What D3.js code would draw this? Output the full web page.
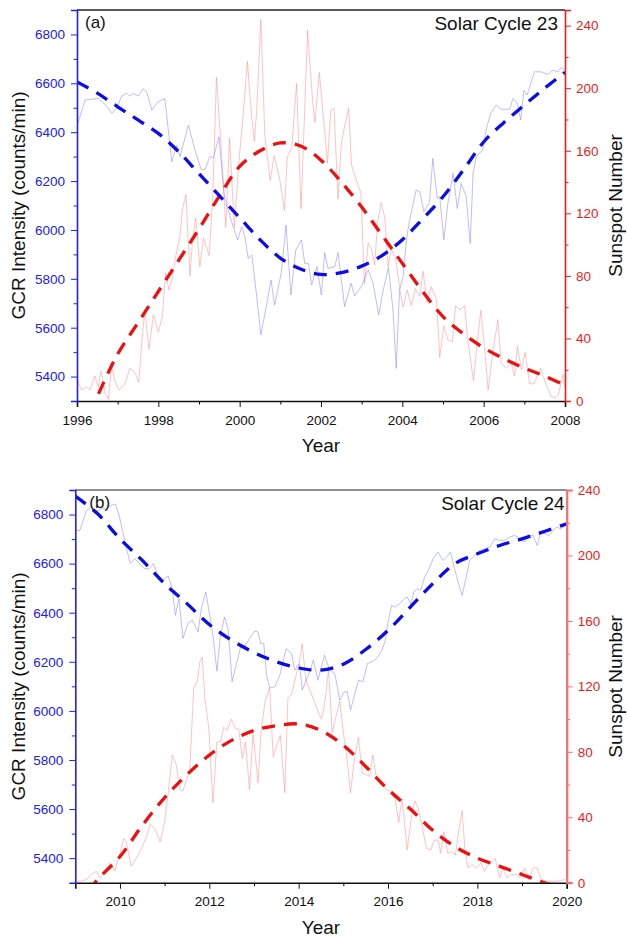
<!DOCTYPE html>
<html>
<head>
<meta charset="utf-8">
<script src="https://cdn.jsdelivr.net/npm/d3@7"></script>
<style>
  body { margin: 0; background: #fff; }
  svg { display: block; font-family: "Liberation Sans", Arial, sans-serif; }
</style>
</head>
<body>
<div id="chart"></div>
<script>
// ---- Solar cycle 23 (1996-2008) ----
const gcr23Years = [1996.02,1996.2,1996.52,1996.65,1996.77,1996.85,1996.98,1997.1,1997.22,1997.3,1997.38,1997.5,1997.63,1997.71,1997.84,1998.0,1998.16,1998.33,1998.45,1998.53,1998.74,1998.9,1999.05,1999.15,1999.27,1999.35,1999.49,1999.62,1999.72,1999.84,1999.95,2000.05,2000.13,2000.21,2000.3,2000.42,2000.52,2000.67,2000.77,2000.86,2001.02,2001.14,2001.26,2001.38,2001.52,2001.6,2001.69,2001.77,2001.9,2002.01,2002.09,2002.17,2002.34,2002.42,2002.58,2002.74,2002.83,2002.99,2003.16,2003.28,2003.42,2003.52,2003.66,2003.77,2003.85,2003.93,2004.02,2004.1,2004.18,2004.34,2004.43,2004.53,2004.67,2004.75,2004.86,2004.92,2005.02,2005.12,2005.25,2005.35,2005.45,2005.57,2005.67,2005.74,2005.82,2005.98,2006.06,2006.17,2006.31,2006.43,2006.64,2006.72,2006.83,2006.91,2006.99,2007.07,2007.25,2007.42,2007.58,2007.7,2007.83,2007.91,2007.99];
const gcr23 = [6436,6532,6538,6520,6498,6477,6498,6548,6559,6548,6559,6548,6577,6566,6491,6525,6538,6279,6347,6300,6429,6327,6248,6248,6302,6293,6381,6143,6081,6013,5959,6013,5972,5884,5897,5727,5570,5700,5795,5693,5822,6020,5734,5918,5959,5863,5863,5775,5850,5734,5907,5843,5850,5907,5686,5782,5730,5768,5836,5782,5652,5747,5847,5672,5434,5754,5809,5959,6041,6163,6156,6075,6115,6293,6129,6136,5959,6109,6232,6088,6190,6136,5945,6232,6300,6327,6409,6477,6511,6494,6494,6538,6518,6450,6572,6552,6647,6647,6636,6654,6647,6665,6654];

const ssn23Years = [1996.02,1996.11,1996.24,1996.32,1996.44,1996.52,1996.59,1996.69,1996.77,1996.85,1996.93,1997.03,1997.18,1997.3,1997.43,1997.52,1997.59,1997.67,1997.77,1997.88,1998.0,1998.1,1998.18,1998.26,1998.33,1998.43,1998.53,1998.59,1998.68,1998.78,1998.84,1998.92,1999.02,1999.11,1999.17,1999.25,1999.34,1999.43,1999.56,1999.66,1999.75,1999.87,1999.97,2000.07,2000.19,2000.28,2000.36,2000.42,2000.52,2000.62,2000.75,2000.85,2000.99,2001.1,2001.17,2001.28,2001.4,2001.51,2001.67,2001.79,2001.85,2001.96,2002.05,2002.16,2002.24,2002.32,2002.42,2002.5,2002.6,2002.68,2002.75,2002.87,2002.98,2003.07,2003.16,2003.24,2003.32,2003.39,2003.48,2003.57,2003.65,2003.73,2003.83,2003.93,2004.02,2004.12,2004.22,2004.32,2004.43,2004.51,2004.61,2004.71,2004.84,2004.92,2005.02,2005.12,2005.23,2005.31,2005.41,2005.53,2005.61,2005.75,2005.84,2005.93,2006.02,2006.11,2006.23,2006.35,2006.43,2006.56,2006.68,2006.76,2006.83,2006.93,2007.02,2007.13,2007.24,2007.4,2007.54,2007.66,2007.76,2007.84,2007.95,2008.0];
const ssn23 = [13,7,9,7,16,9,19,5,1,24,13,7,11,21,18,12,37,58,33,55,44,54,82,71,77,93,105,122,132,80,103,117,86,104,99,93,131,207,156,111,168,111,150,178,217,186,166,186,244,169,141,157,141,122,156,162,203,123,237,193,178,210,184,152,186,187,129,165,178,187,151,141,133,75,101,97,87,114,127,117,86,97,92,73,60,71,61,72,67,83,63,73,65,28,48,39,38,61,58,61,39,13,37,58,35,7,32,52,24,21,24,16,35,20,31,11,11,21,10,3,2,4,17,9];

const fit23Years = [1996,1996.5,1997,1997.5,1998,1998.5,1999,1999.5,2000,2000.5,2001,2001.5,2002,2002.5,2003,2003.5,2004,2004.5,2005,2005.5,2006,2006.5,2007,2007.5,2008];
const gcrFit23 = [6606,6560,6504,6450,6395,6320,6230,6140,6050,5960,5885,5840,5818,5825,5852,5895,5960,6045,6136,6245,6360,6440,6511,6580,6645];
const ssnFit23Years = [1996.3,1996.5,1997,1997.5,1998,1998.5,1999,1999.5,2000,2000.5,2001,2001.5,2002,2002.5,2003,2003.5,2004,2004.5,2005,2005.5,2006,2006.5,2007,2007.5,2008];
const ssnFit23 = [-8,3,30,50,70,90,110,131,150,160,165,163,154,140,124,106,88,70,54,43,34,27,21,16,10];

// ---- Solar cycle 24 (2009-2020) ----
const gcr24Years = [2009.01,2009.1,2009.25,2009.36,2009.47,2009.58,2009.69,2009.81,2009.9,2009.99,2010.14,2010.23,2010.33,2010.44,2010.55,2010.65,2010.75,2010.85,2010.95,2011.08,2011.17,2011.24,2011.32,2011.41,2011.52,2011.62,2011.75,2011.82,2011.92,2012.01,2012.08,2012.17,2012.25,2012.34,2012.42,2012.51,2012.6,2012.71,2012.81,2012.9,2013.01,2013.09,2013.15,2013.22,2013.28,2013.35,2013.47,2013.58,2013.72,2013.84,2013.91,2014.02,2014.08,2014.17,2014.26,2014.33,2014.43,2014.58,2014.69,2014.81,2014.92,2015.02,2015.09,2015.16,2015.25,2015.34,2015.44,2015.54,2015.63,2015.74,2015.85,2015.93,2016.0,2016.08,2016.16,2016.26,2016.36,2016.43,2016.51,2016.58,2016.66,2016.73,2016.82,2016.92,2017.01,2017.12,2017.23,2017.31,2017.4,2017.49,2017.58,2017.66,2017.75,2017.83,2017.94,2018.05,2018.16,2018.28,2018.39,2018.5,2018.61,2018.72,2018.84,2018.95,2019.06,2019.13,2019.25,2019.34,2019.42,2019.51,2019.6,2019.7,2019.77,2019.87,2019.96];
const gcr24 = [6735,6735,6816,6830,6810,6825,6822,6837,6843,6789,6667,6600,6620,6600,6579,6579,6600,6552,6532,6550,6498,6389,6457,6295,6356,6370,6322,6417,6485,6389,6308,6162,6308,6382,6335,6119,6186,6267,6267,6295,6324,6322,6274,6274,6146,6094,6098,6146,6254,6234,6166,6193,6085,6125,6166,6207,6125,6227,6166,6152,6044,6078,6078,6003,6064,6125,6119,6193,6200,6213,6241,6281,6363,6430,6423,6436,6457,6464,6436,6485,6498,6491,6545,6579,6620,6647,6613,6627,6647,6579,6518,6471,6545,6613,6633,6654,6661,6667,6701,6695,6695,6708,6715,6701,6688,6715,6715,6674,6728,6722,6715,6735,6749,6742,6755];

const ssn24Years = [2009.01,2009.14,2009.25,2009.36,2009.47,2009.55,2009.62,2009.69,2009.78,2009.88,2009.99,2010.08,2010.14,2010.25,2010.37,2010.48,2010.58,2010.68,2010.78,2010.9,2011.0,2011.08,2011.17,2011.26,2011.34,2011.41,2011.5,2011.56,2011.65,2011.73,2011.79,2011.84,2011.9,2011.99,2012.08,2012.17,2012.25,2012.32,2012.4,2012.49,2012.59,2012.66,2012.74,2012.81,2012.9,2012.98,2013.09,2013.16,2013.25,2013.35,2013.43,2013.52,2013.59,2013.69,2013.76,2013.84,2013.91,2014.01,2014.08,2014.16,2014.23,2014.32,2014.43,2014.51,2014.58,2014.67,2014.75,2014.84,2014.92,2014.99,2015.09,2015.16,2015.25,2015.34,2015.42,2015.52,2015.59,2015.66,2015.74,2015.85,2015.96,2016.07,2016.16,2016.24,2016.31,2016.37,2016.43,2016.52,2016.6,2016.67,2016.76,2016.86,2016.96,2017.03,2017.12,2017.18,2017.25,2017.34,2017.42,2017.51,2017.58,2017.66,2017.72,2017.79,2017.88,2017.98,2018.08,2018.16,2018.24,2018.33,2018.4,2018.5,2018.57,2018.67,2018.76,2018.87,2018.95,2019.06,2019.15,2019.25,2019.34,2019.43,2019.54,2019.66,2019.81,2019.96];
const ssn24 = [1,1,2,5,7,3,5,9,12,7,17,27,25,10,15,21,27,36,33,25,37,55,78,72,57,56,64,67,119,123,135,138,113,94,49,86,86,95,93,100,94,94,76,86,57,91,61,93,111,119,77,85,90,55,113,115,123,134,146,124,119,113,105,100,109,130,92,102,111,94,74,55,76,89,67,66,65,78,64,62,57,56,51,37,51,37,20,39,50,46,35,21,20,26,26,18,31,18,19,17,31,44,21,9,11,9,12,7,11,13,15,3,9,3,5,5,3,9,2,9,9,2,1,1,1,2];

const fit24Years = [2009,2009.5,2010,2010.5,2011,2011.5,2012,2012.5,2013,2013.5,2014,2014.5,2015,2015.5,2016,2016.5,2017,2017.5,2018,2018.5,2019,2019.5,2020];
const gcrFit24 = [6875,6803,6701,6613,6518,6437,6352,6288,6238,6200,6175,6166,6190,6250,6328,6423,6518,6600,6640,6674,6701,6731,6762];
const ssnFit24Years = [2009.3,2009.5,2010,2010.5,2011,2011.5,2012,2012.5,2013,2013.5,2014,2014.5,2015,2015.5,2016,2016.5,2017,2017.5,2018,2018.5,2019,2019.5,2019.9];
const ssnFit24 = [-5,2,16,35,52,66,78,87,93,96,97,93,84,71,57,45,32,22,15,10,5,0,-3];

// axis ticks
const gcrTicks = [5400,5600,5800,6000,6200,6400,6600,6800];
const gcrMinor = [5500,5700,5900,6100,6300,6500,6700];
const ssnTicks = [0,40,80,120,160,200,240];
const ssnMinor = [20,60,100,140,180,220];
const yearTicks23 = [1996,1998,2000,2002,2004,2006,2008];
const yearMinor23 = [1997,1999,2001,2003,2005,2007];
const yearTicks24 = [2010,2012,2014,2016,2018,2020];
const yearMinor24 = [2011,2013,2015,2017,2019];

const W = 627, H = 940;
const BLUE = "#2020f0", RED = "#ec1c1c";
const FONT = "Liberation Sans, Arial, sans-serif";

const svg = d3.select("#chart").append("svg")
  .attr("width", W).attr("height", H);

const zip = (xs, ys) => xs.map((x, i) => [x, ys[i]]);

function drawPanel(p) {
  const x = d3.scaleLinear().domain(p.xDomain).range([p.left, p.right]);
  const yL = d3.scaleLinear().domain([5300, 6900]).range([p.bottom, p.top]);
  const yR = d3.scaleLinear().domain(p.ssnDomain).range([p.bottom, p.top]);

  const g = svg.append("g");
  const clipId = "clip-" + p.id;
  svg.append("clipPath").attr("id", clipId)
    .append("rect")
    .attr("x", p.left).attr("y", p.top)
    .attr("width", p.right - p.left).attr("height", p.bottom - p.top);

  const plot = g.append("g").attr("clip-path", `url(#${clipId})`);

  const lineL = d3.line().x((d) => x(d[0])).y((d) => yL(d[1]));
  const lineR = d3.line().x((d) => x(d[0])).y((d) => yR(d[1]));
  const smoothL = d3.line().curve(d3.curveCatmullRom).x((d) => x(d[0])).y((d) => yL(d[1]));
  const smoothR = d3.line().curve(d3.curveCatmullRom).x((d) => x(d[0])).y((d) => yR(d[1]));

  // raw monthly data, thin and faded
  plot.append("path").datum(p.ssn)
    .attr("d", lineR).attr("fill", "none")
    .attr("stroke", "#ff8e8e").attr("stroke-opacity", 0.6).attr("stroke-width", 0.9);
  plot.append("path").datum(p.gcr)
    .attr("d", lineL).attr("fill", "none")
    .attr("stroke", "#8484ff").attr("stroke-opacity", 0.6).attr("stroke-width", 0.9);

  // fitted trends, dashed
  plot.append("path").datum(p.ssnFit)
    .attr("d", smoothR).attr("fill", "none")
    .attr("stroke", "#ee1010").attr("stroke-width", 3.3)
    .attr("stroke-dasharray", "13,9");
  plot.append("path").datum(p.gcrFit)
    .attr("d", smoothL).attr("fill", "none")
    .attr("stroke", "#0c0ce6").attr("stroke-width", 3.3)
    .attr("stroke-dasharray", "13,9");

  // top frame line
  g.append("line")
    .attr("x1", p.left).attr("x2", p.right)
    .attr("y1", p.top).attr("y2", p.top)
    .attr("stroke", p.topColor).attr("stroke-width", 1.5);

  // bottom axis
  const xa = g.append("g").attr("transform", `translate(0,${p.bottom})`)
    .call(d3.axisBottom(x).tickValues(p.yearTicks).tickSize(6).tickPadding(8).tickFormat(d3.format("d")));
  g.append("g").attr("transform", `translate(0,${p.bottom})`)
    .call(d3.axisBottom(x).tickValues(p.yearMinor).tickSize(3.5).tickFormat(""))
    .call((s) => s.select(".domain").remove());
  xa.select(".domain").attr("stroke", "#111").attr("stroke-width", 1.6);

  // left axis (GCR)
  const la = g.append("g").attr("transform", `translate(${p.left},0)`)
    .call(d3.axisLeft(yL).tickValues(gcrTicks).tickSize(6).tickPadding(6).tickFormat(d3.format("d")));
  g.append("g").attr("transform", `translate(${p.left},0)`)
    .call(d3.axisLeft(yL).tickValues(gcrMinor).tickSize(3.5).tickFormat(""))
    .call((s) => s.select(".domain").remove())
    .selectAll("line").attr("stroke", BLUE);
  la.select(".domain").attr("stroke", BLUE).attr("stroke-width", 1.6);
  la.selectAll(".tick line").attr("stroke", BLUE);
  la.selectAll("text").attr("fill", BLUE);

  // right axis (sunspots)
  const ra = g.append("g").attr("transform", `translate(${p.right},0)`)
    .call(d3.axisRight(yR).tickValues(ssnTicks).tickSize(6).tickPadding(5).tickFormat(d3.format("d")));
  g.append("g").attr("transform", `translate(${p.right},0)`)
    .call(d3.axisRight(yR).tickValues(ssnMinor).tickSize(3.5).tickFormat(""))
    .call((s) => s.select(".domain").remove())
    .selectAll("line").attr("stroke", p.rightColor);
  ra.select(".domain").attr("stroke", p.rightColor).attr("stroke-width", p.rightWidth);
  ra.selectAll(".tick line").attr("stroke", p.rightColor);
  ra.selectAll("text").attr("fill", RED);

  g.selectAll(".tick text")
    .attr("font-family", FONT).attr("font-size", 13.5);
  xa.selectAll(".tick line").attr("stroke", "#111");
  xa.selectAll("text").attr("fill", "#111");

  // titles
  g.append("text")
    .attr("x", (p.left + p.right) / 2).attr("y", p.bottom + 51)
    .attr("text-anchor", "middle").attr("font-family", FONT).attr("font-size", 19)
    .attr("fill", "#111").text("Year");
  const cy = (p.top + p.bottom) / 2;
  g.append("text")
    .attr("transform", `translate(25,${cy}) rotate(-90)`)
    .attr("text-anchor", "middle").attr("font-family", FONT).attr("font-size", 19)
    .attr("fill", "#111").text("GCR Intensity (counts/min)");
  g.append("text")
    .attr("transform", `translate(622,${cy}) rotate(-90)`)
    .attr("text-anchor", "middle").attr("font-family", FONT).attr("font-size", 19)
    .attr("fill", "#111").text("Sunspot Number");

  g.append("text")
    .attr("x", p.left + p.tagDx).attr("y", p.top + 18)
    .attr("font-family", FONT).attr("font-size", 17).attr("fill", "#111")
    .text(p.tag);
  g.append("text")
    .attr("x", p.right - p.titleDx).attr("y", p.top + 20)
    .attr("text-anchor", "end").attr("font-family", FONT).attr("font-size", 19)
    .attr("fill", "#111").text(p.title);
}

drawPanel({
  id: "a", tag: "(a)", title: "Solar Cycle 23",
  left: 77, right: 565, top: 10, bottom: 401,
  xDomain: [1996, 2008], ssnDomain: [0, 250],
  yearTicks: yearTicks23, yearMinor: yearMinor23,
  gcr: zip(gcr23Years, gcr23), ssn: zip(ssn23Years, ssn23),
  gcrFit: zip(fit23Years, gcrFit23), ssnFit: zip(ssnFit23Years, ssnFit23),
  topColor: "#222", rightColor: RED, rightWidth: 1.6, tagDx: 8, titleDx: 7
});

drawPanel({
  id: "b", tag: "(b)", title: "Solar Cycle 24",
  left: 75.3, right: 566.7, top: 490, bottom: 882.7,
  xDomain: [2009, 2020], ssnDomain: [0, 240],
  yearTicks: yearTicks24, yearMinor: yearMinor24,
  gcr: zip(gcr24Years, gcr24), ssn: zip(ssn24Years, ssn24),
  gcrFit: zip(fit24Years, gcrFit24), ssnFit: zip(ssnFit24Years, ssnFit24),
  topColor: "#6a6a6a", rightColor: "#ff6a6a", rightWidth: 2.2, tagDx: 14, titleDx: 2
});
</script>
</body>
</html>
